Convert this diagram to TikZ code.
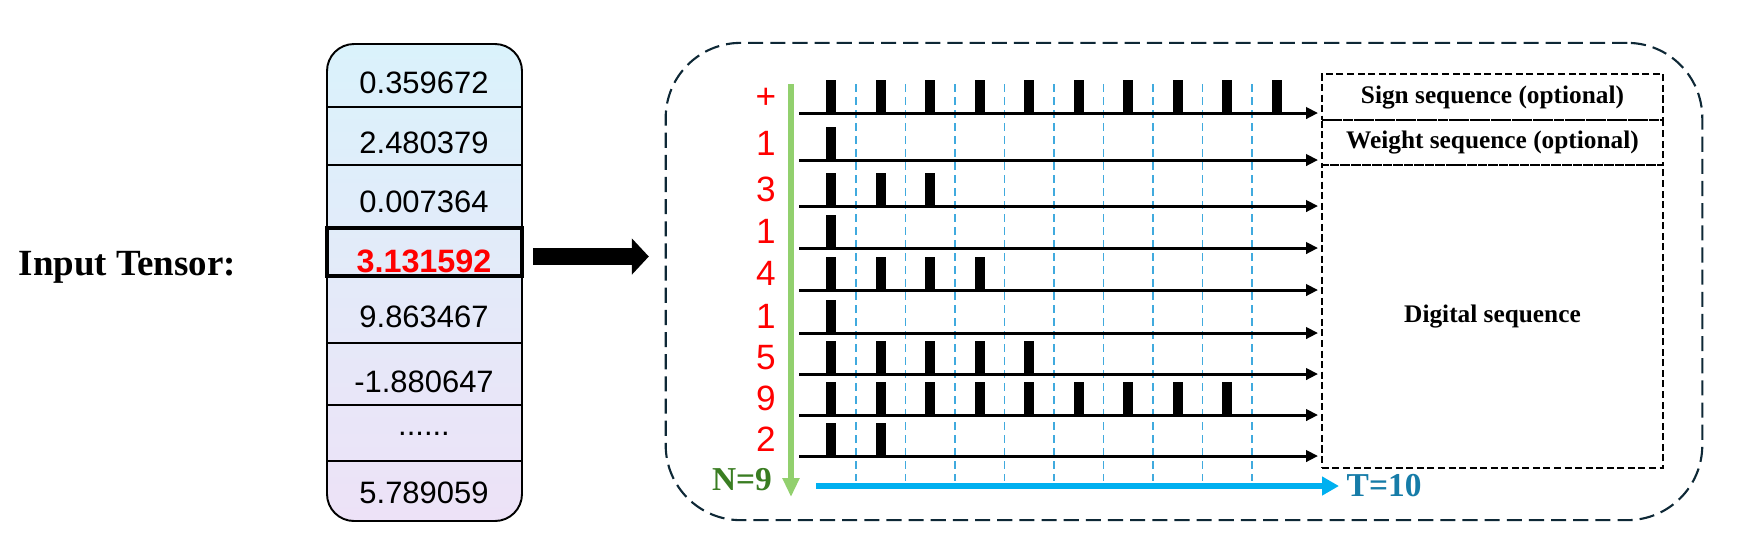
\documentclass[tikz,border=0pt]{standalone}
\usepackage{fontspec}
\setmainfont{Liberation Serif}
\setsansfont{Liberation Sans}
\usetikzlibrary{arrows.meta,positioning}

\definecolor{tensTop}{RGB}{218,242,251}
\definecolor{tensBot}{RGB}{237,226,247}
\definecolor{frameNavy}{RGB}{14,40,54}
\definecolor{tickBlue}{RGB}{64,170,222}
\definecolor{timeBlue}{RGB}{0,176,240}
\definecolor{tBlue}{RGB}{22,124,168}
\definecolor{nGreen}{RGB}{58,125,34}
\definecolor{axisGreen}{RGB}{146,208,110}

\newcommand{\sixdots}{......}

\tikzset{
  cell/.style={font=\sffamily\fontsize{8.8}{10}\selectfont, inner sep=0pt, anchor=base},
  digit/.style={font=\sffamily\fontsize{10}{12}\selectfont, text=red, inner sep=0pt, anchor=base},
  seqbox/.style={draw, line width=0.5pt, dash pattern=on 2pt off 1pt, minimum width=3.41cm,
    inner sep=0pt, outer sep=0pt, font=\bfseries\fontsize{7.2}{8.5}\selectfont},
  timeline/.style={line width=0.85pt, shorten >=1.1pt, -{Triangle[length=3.4pt,width=3.2pt]}},
  tick/.style={tickBlue, line width=0.4pt, dash pattern=on 2.2pt off 1.5pt},
}

\begin{document}
\begin{tikzpicture}[x=0.01cm, y=-0.01cm]
  \useasboundingbox (0,0) rectangle (1750,550);

  % --- Title ---
  \node[font=\bfseries\fontsize{10.5}{12}\selectfont, anchor=base west, inner sep=0pt]
    (title) at (18,275) {Input Tensor:};

  % --- Tensor column ---
  \shade[top color=tensTop, bottom color=tensBot, draw, line width=0.55pt,
    rounded corners=0.27cm] (327,44) rectangle (522,521);
  \foreach \sy in {107,165,343,405,461}
    \draw[line width=0.55pt] (327,\sy) -- (522,\sy);
  \foreach \cy/\val [count=\i] in {93/0.359672, 153/2.480379, 212/0.007364,
      327/9.863467, 392/-1.880647, 435/\sixdots, 503/5.789059}
    \node[cell] (c\i) at (424,\cy) {\val};

  % selected value
  \node[draw, line width=1.2pt, minimum width=1.95cm, minimum height=0.48cm, inner sep=0pt]
    (sel) at (424.5,252) {};
  \node[cell, text=red, font=\sffamily\bfseries\fontsize{9.2}{10}\selectfont]
    (val) at (424,272) {3.131592};

  % --- Outer frame ---
  \node[draw=frameNavy, line width=0.6pt, dash pattern=on 4.3pt off 2pt,
    rounded corners=0.75cm, minimum width=10.36cm, minimum height=4.77cm, inner sep=0pt]
    (frame) at (1184,281.5) {};

  % big arrow
  \coordinate (aStart) at ([yshift=-0.45mm]sel.east);
  \coordinate (aEnd) at (aStart -| frame.west);
  \draw[line width=4.8pt, shorten <=2.5pt, shorten >=4.5pt,
    -{Triangle[length=4.8pt,width=10pt]}] (aStart) -- (aEnd);

  % --- Sequence boxes ---
  \node[seqbox, minimum height=0.46cm] (signbox) at (1492.5,97) {Sign sequence (optional)};
  \node[seqbox, minimum height=0.45cm, below=0pt of signbox] (weightbox) {Weight sequence (optional)};
  \node[seqbox, minimum height=3.03cm, below=0pt of weightbox] (digitbox) {Digital sequence};

  % time step guides
  \foreach \k in {0,...,8}
    \draw[tick] ({856+49.5*\k},84) -- ({856+49.5*\k},481);

  % --- Spike rows ---
  \foreach \ly/\lab/\np [count=\i] in {113/+/10, 160/1/1, 206/3/3, 248/1/1, 290/4/4,
      333/1/1, 374/5/5, 415/9/9, 456/2/2} {
    \coordinate (s\i) at (799,\ly);
    \node[digit] (d\i) at ({766},{\ly-5}) {\lab};
    \draw[timeline] (s\i) -- (s\i -| signbox.west);
    \foreach \k in {1,...,\np}
      \fill ({831+49.5*(\k-1)-5},\ly) rectangle ++(10,-33);
  }

  % --- N axis ---
  \coordinate (ntop) at (791,84);
  \coordinate (nbot) at (791,497);
  \draw[axisGreen, line width=1.7pt, -{Triangle[length=5.4pt,width=4.6pt]}] (ntop) -- (nbot);
  \node[font=\bfseries\fontsize{9.5}{11}\selectfont, text=nGreen, inner sep=0pt, anchor=base]
    (nlab) at (742,490) {N=9};

  % --- T axis ---
  \coordinate (tstart) at (816,486);
  \coordinate (tend) at (1339,486);
  \draw[timeBlue, line width=1.7pt, -{Triangle[length=4.8pt,width=5.1pt]}] (tstart) -- (tend);
  \node[font=\bfseries\fontsize{9.5}{11}\selectfont, text=tBlue, inner sep=0pt,
    right=2pt of tend] (tlab) {T=10};
\end{tikzpicture}
\end{document}
